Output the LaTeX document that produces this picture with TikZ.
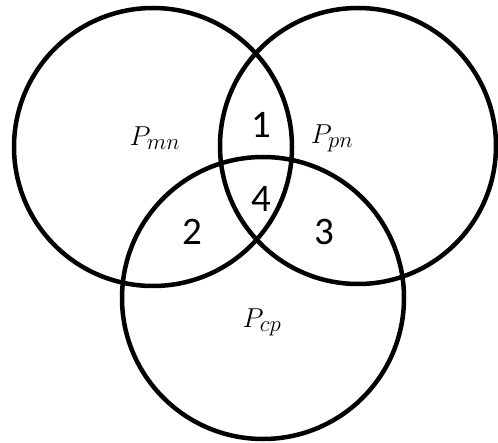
\documentclass[tikz,border=0pt]{standalone}
\usepackage{fontspec}
\newfontfamily\digitfont{Carlito}
\usepackage{tikz}
\tikzset{
  setring/.style   ={draw,circle,line width=4.5pt,inner sep=0pt},
  setlabel/.style  ={font=\Huge,inner sep=0pt},
  regionlabel/.style={font=\digitfont\fontsize{39}{42}\selectfont,inner sep=0pt},
}
\begin{document}
\begin{tikzpicture}[x=1pt,y=-1pt]
\useasboundingbox (0,0) rectangle (498,443);
% Three sets
\node[setring,minimum size=278pt] (MN) at (153,147) {};
\node[setring,minimum size=276pt] (PN) at (358,146) {};
\node[setring,minimum size=282pt] (CP) at (263,298) {};
% Set names
\node[setlabel] (lmn) at (155,138) {\scalebox{1.1}{$P_{mn}$}};
\node[setlabel] (lpn) at (332,138) {\scalebox{1.1}{$P_{pn}$}};
\node[setlabel] (lcp) at (262,322) {\scalebox{1.1}{$P_{cp}$}};
% Overlap regions
\node[regionlabel] (r1) at (261,124.5) {1};
\node[regionlabel] (r2) at (192,231.5) {2};
\node[regionlabel] (r3) at (324,231.5) {3};
\node[regionlabel] (r4) at (261,198.5) {4};
\end{tikzpicture}
\end{document}
